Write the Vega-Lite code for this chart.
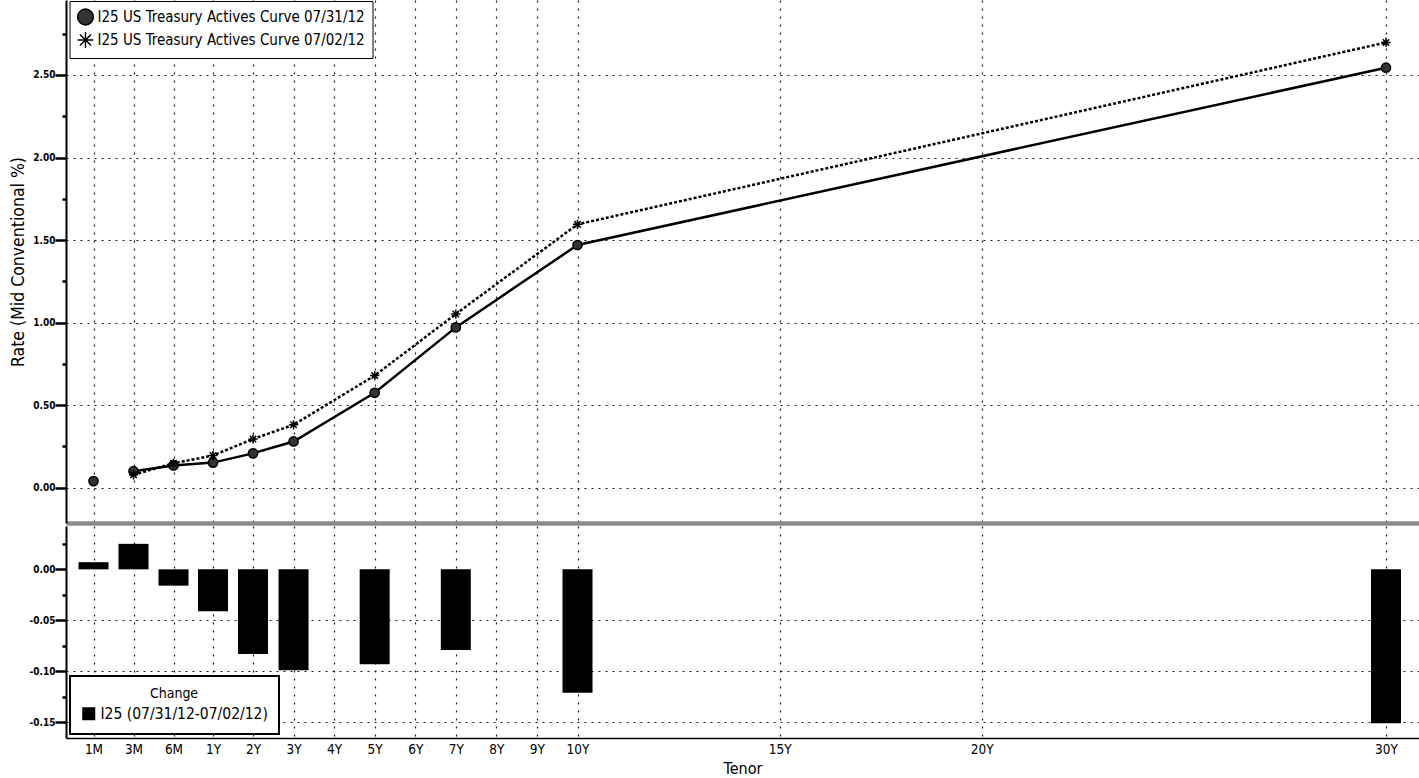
{
  "$schema": "https://vega.github.io/schema/vega-lite/v6.json",
  "padding": {"left": 9, "top": 0, "right": 0, "bottom": 0},
  "background": "white",
  "spacing": 3,
  "datasets": {
    "curves": [
      {"tenor": "1M", "years": 0.083333, "series": "I25 US Treasury Actives Curve 07/31/12", "rate": 0.04},
      {"tenor": "3M", "years": 0.25, "series": "I25 US Treasury Actives Curve 07/31/12", "rate": 0.1},
      {"tenor": "6M", "years": 0.5, "series": "I25 US Treasury Actives Curve 07/31/12", "rate": 0.135},
      {"tenor": "1Y", "years": 1, "series": "I25 US Treasury Actives Curve 07/31/12", "rate": 0.152},
      {"tenor": "2Y", "years": 2, "series": "I25 US Treasury Actives Curve 07/31/12", "rate": 0.208},
      {"tenor": "3Y", "years": 3, "series": "I25 US Treasury Actives Curve 07/31/12", "rate": 0.28},
      {"tenor": "5Y", "years": 5, "series": "I25 US Treasury Actives Curve 07/31/12", "rate": 0.575},
      {"tenor": "7Y", "years": 7, "series": "I25 US Treasury Actives Curve 07/31/12", "rate": 0.971},
      {"tenor": "10Y", "years": 10, "series": "I25 US Treasury Actives Curve 07/31/12", "rate": 1.47},
      {"tenor": "30Y", "years": 30, "series": "I25 US Treasury Actives Curve 07/31/12", "rate": 2.544},
      {"tenor": "3M", "years": 0.25, "series": "I25 US Treasury Actives Curve 07/02/12", "rate": 0.078},
      {"tenor": "6M", "years": 0.5, "series": "I25 US Treasury Actives Curve 07/02/12", "rate": 0.148},
      {"tenor": "1Y", "years": 1, "series": "I25 US Treasury Actives Curve 07/02/12", "rate": 0.195},
      {"tenor": "2Y", "years": 2, "series": "I25 US Treasury Actives Curve 07/02/12", "rate": 0.295},
      {"tenor": "3Y", "years": 3, "series": "I25 US Treasury Actives Curve 07/02/12", "rate": 0.381},
      {"tenor": "5Y", "years": 5, "series": "I25 US Treasury Actives Curve 07/02/12", "rate": 0.679},
      {"tenor": "7Y", "years": 7, "series": "I25 US Treasury Actives Curve 07/02/12", "rate": 1.052},
      {"tenor": "10Y", "years": 10, "series": "I25 US Treasury Actives Curve 07/02/12", "rate": 1.595},
      {"tenor": "30Y", "years": 30, "series": "I25 US Treasury Actives Curve 07/02/12", "rate": 2.697}
    ],
    "change": [
      {"tenor": "1M", "years": 0.083333, "change": 0.007},
      {"tenor": "3M", "years": 0.25, "change": 0.025},
      {"tenor": "6M", "years": 0.5, "change": -0.016},
      {"tenor": "1Y", "years": 1, "change": -0.041},
      {"tenor": "2Y", "years": 2, "change": -0.083},
      {"tenor": "3Y", "years": 3, "change": -0.099},
      {"tenor": "5Y", "years": 5, "change": -0.093},
      {"tenor": "7Y", "years": 7, "change": -0.079},
      {"tenor": "10Y", "years": 10, "change": -0.121},
      {"tenor": "30Y", "years": 30, "change": -0.151}
    ]
  },
  "config": {
    "view": {"stroke": null},
    "font": "DejaVu Sans Condensed",
    "axis": {
      "labelColor": "black",
      "titleColor": "black",
      "gridColor": "#1a1a1a",
      "gridWidth": 1.2,
      "tickColor": "black",
      "domainColor": "black"
    }
  },
  "resolve": {
    "scale": {"x": "independent", "y": "independent"},
    "legend": {"shape": "independent", "color": "independent"}
  },
  "vconcat": [
    {
      "width": 1353,
      "height": 523,
      "data": {"name": "curves"},
      "encoding": {
        "x": {
          "field": "years",
          "type": "quantitative",
          "scale": {"type": "linear", "domain": [-0.0313, 0.083333, 0.25, 0.5, 1, 2, 10, 30, 30.816], "range": [0, 27.5, 67.5, 107.5, 147, 187, 511.5, 1320, 1353], "nice": false, "zero": false},
          "axis": {
            "values": [0.083333, 0.25, 0.5, 1, 2, 3, 4, 5, 6, 7, 8, 9, 10, 15, 20, 30],
            "labels": false,
            "ticks": false,
            "title": null,
            "grid": true,
            "gridDash": [2, 6],
            "domainColor": "#8c8c8c",
            "domainWidth": 4.7
          }
        },
        "y": {
          "field": "rate",
          "type": "quantitative",
          "scale": {"domain": [-0.2138, 2.954], "nice": false, "zero": false},
          "axis": {
            "title": "Rate (Mid Conventional %)",
            "titleFont": "DejaVu Sans Condensed",
            "titleFontSize": 17.5,
            "titleFontWeight": "normal",
            "titlePadding": 5,
            "values": [0, 0.25, 0.5, 0.75, 1, 1.25, 1.5, 1.75, 2, 2.25, 2.5, 2.75],
            "labelExpr": "abs(datum.value*2 - round(datum.value*2)) < 0.001 ? format(datum.value, '.2f') : ''",
            "labelFont": "DejaVu Sans Condensed",
            "labelFontWeight": "bold",
            "labelFontSize": 10,
            "labelPadding": 0,
            "tickSize": {"condition": {"test": "abs(datum.value*2 - round(datum.value*2)) < 0.001", "value": 11}, "value": 4},
            "tickWidth": 2.5,
            "grid": true,
            "gridDash": [2, 5],
            "gridOpacity": {"condition": {"test": "abs(datum.value*2 - round(datum.value*2)) < 0.001", "value": 1}, "value": 0},
            "domainWidth": 2
          }
        }
      },
      "layer": [
        {
          "transform": [{"filter": "datum.years >= 0.2 && datum.series == 'I25 US Treasury Actives Curve 07/31/12'"}],
          "mark": {"type": "line", "color": "black", "strokeWidth": 2.5}
        },
        {
          "transform": [{"filter": "datum.series == 'I25 US Treasury Actives Curve 07/02/12'"}],
          "mark": {"type": "line", "color": "black", "strokeWidth": 2.5, "strokeDash": [3, 2]}
        },
        {
          "mark": {"type": "point", "filled": true, "fill": "#333333", "stroke": "black", "strokeWidth": 1.5, "size": 85, "opacity": 1},
          "encoding": {
            "shape": {
              "field": "series",
              "type": "nominal",
              "scale": {"domain": ["I25 US Treasury Actives Curve 07/31/12", "I25 US Treasury Actives Curve 07/02/12"], "range": ["circle", "M-1,0L1,0M0,-1L0,1M-0.7,-0.7L0.7,0.7M-0.7,0.7L0.7,-0.7"]},
              "legend": {
                "title": null,
                "orient": "none",
                "legendX": 3.5,
                "legendY": 1,
                "labelFont": "DejaVu Sans Condensed",
                "labelFontSize": 15,
                "labelColor": "black",
                "labelLimit": 0,
                "labelOffset": 3,
                "symbolSize": 250,
                "fillColor": "white",
                "strokeColor": "black",
                "padding": 7,
                "rowPadding": 1,
                "encode": {
                  "legend": {"update": {"strokeWidth": {"value": 2}}},
                  "symbols": {"update": {"stroke": {"value": "black"}, "strokeWidth": {"value": 2}, "fill": {"value": "black"}, "opacity": {"value": 1}}}
                }
              }
            }
          }
        }
      ]
    },
    {
      "width": 1353,
      "height": 212,
      "encoding": {
        "x": {
          "field": "years",
          "type": "quantitative",
          "scale": {"type": "linear", "domain": [-0.0313, 0.083333, 0.25, 0.5, 1, 2, 10, 30, 30.816], "range": [0, 27.5, 67.5, 107.5, 147, 187, 511.5, 1320, 1353], "nice": false, "zero": false},
          "axis": {
            "values": [0.083333, 0.25, 0.5, 1, 2, 3, 4, 5, 6, 7, 8, 9, 10, 15, 20, 30],
            "labelExpr": "datum.value < 1 ? round(datum.value*12) + 'M' : round(datum.value) + 'Y'",
            "labelFont": "DejaVu Sans Condensed",
            "labelFontSize": 13.5,
            "labelPadding": 4,
            "labelFlush": false,
            "ticks": false,
            "title": "Tenor",
            "titleFont": "DejaVu Sans Condensed",
            "titleFontSize": 16,
            "titleFontWeight": "normal",
            "titlePadding": 5,
            "grid": true,
            "gridDash": [2, 6],
            "domainWidth": 1.5
          }
        },
        "y": {
          "field": "change",
          "type": "quantitative",
          "scale": {"domain": [-0.1654, 0.0425], "nice": false, "zero": false},
          "axis": {
            "title": null,
            "values": [0.025, 0, -0.025, -0.05, -0.075, -0.1, -0.125, -0.15],
            "labelExpr": "abs(datum.value*20 - round(datum.value*20)) < 0.001 ? (datum.value < -0.0001 ? '-' : '') + format(abs(datum.value), '.2f') : ''",
            "labelFont": "DejaVu Sans Condensed",
            "labelFontWeight": "bold",
            "labelFontSize": 10,
            "labelPadding": 0,
            "tickSize": {"condition": {"test": "abs(datum.value*20 - round(datum.value*20)) < 0.001", "value": 11}, "value": 4},
            "tickWidth": 2.5,
            "grid": true,
            "gridDash": [2, 5],
            "gridOpacity": {"condition": {"test": "abs(datum.value*20 - round(datum.value*20)) < 0.001 && abs(datum.value) > 0.001", "value": 1}, "value": 0},
            "domainWidth": 2
          }
        }
      },
      "layer": [
        {
          "data": {"name": "change"},
          "mark": {"type": "bar", "size": 30, "orient": "vertical"},
          "encoding": {
            "y2": {"datum": 0},
            "color": {
              "datum": "I25 (07/31/12-07/02/12)",
              "type": "nominal",
              "scale": {"range": ["black"]},
              "legend": {
                "title": "Change",
                "titleFont": "DejaVu Sans Condensed",
                "titleFontSize": 14,
                "titleFontWeight": "normal",
                "titleColor": "black",
                "titleAnchor": "middle",
                "titlePadding": 5,
                "orient": "bottom-left",
                "offset": 4,
                "symbolType": "square",
                "symbolSize": 169,
                "labelFont": "DejaVu Sans Condensed",
                "labelFontSize": 15.5,
                "labelColor": "black",
                "labelLimit": 0,
                "labelOffset": 4,
                "fillColor": "white",
                "strokeColor": "black",
                "padding": 11,
                "encode": {"legend": {"update": {"strokeWidth": {"value": 2}}}}
              }
            }
          }
        },
        {
          "data": {"values": [{"baseline": 0}]},
          "mark": {"type": "rule", "color": "black", "strokeWidth": 1.5},
          "encoding": {"y": {"field": "baseline", "type": "quantitative"}}
        }
      ]
    }
  ]
}
